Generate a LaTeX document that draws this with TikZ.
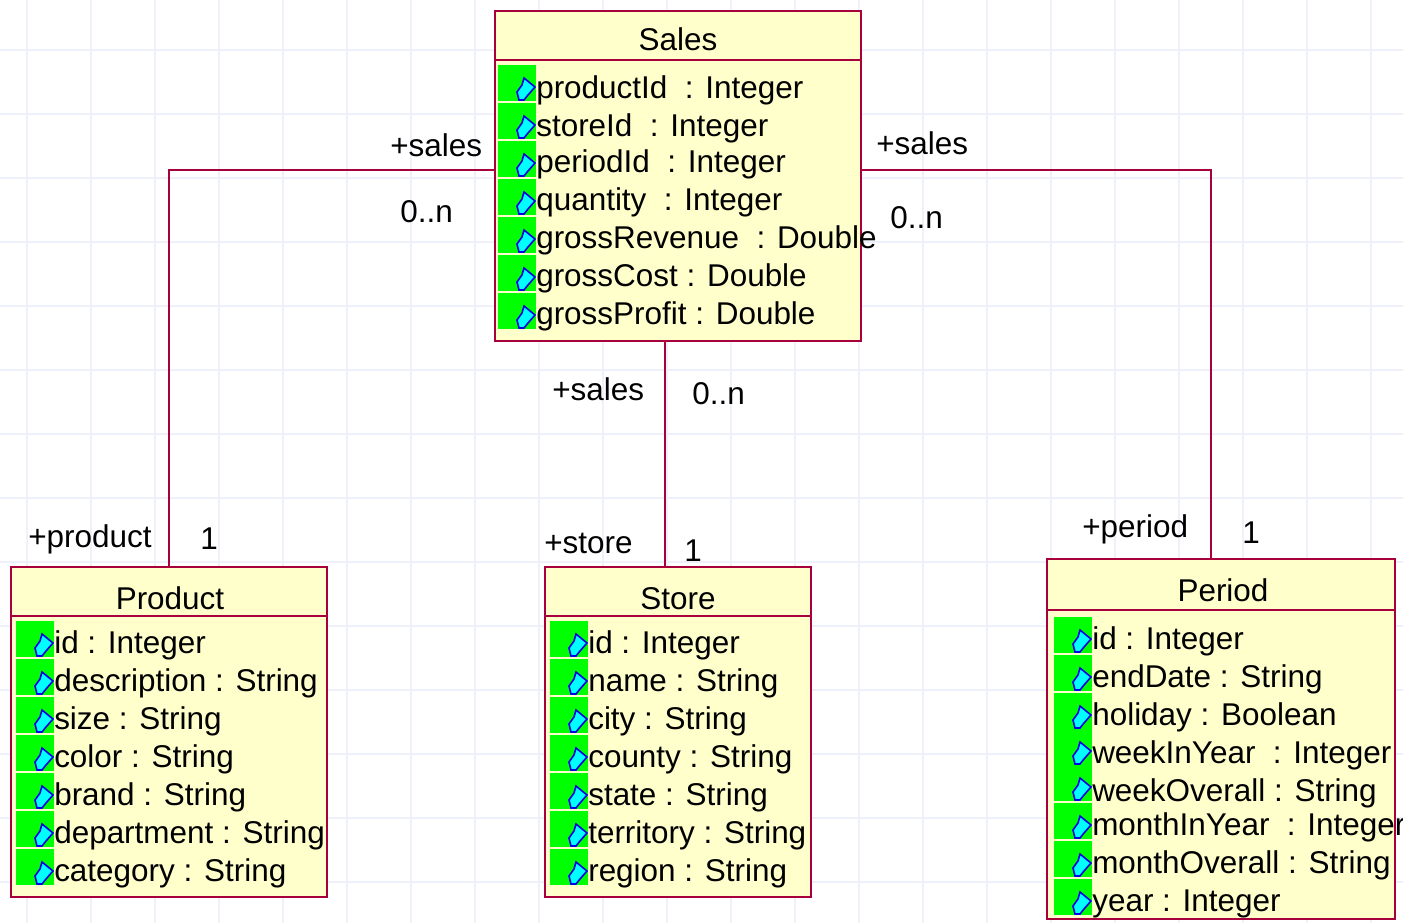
\documentclass[tikz,border=0pt]{standalone}
\usepackage{fontspec}
\setmainfont{Liberation Sans}
\definecolor{umlred}{RGB}{168, 0, 60}
\definecolor{umlfill}{RGB}{255, 255, 203}
\definecolor{gridblue}{RGB}{238, 240, 252}
\definecolor{attrgreen}{RGB}{0, 255, 0}
\definecolor{iconblue}{RGB}{0, 0, 230}
\definecolor{iconcyan}{RGB}{0, 255, 255}
\usetikzlibrary{positioning, calc}
\tikzset{
  classbox/.style={draw=umlred, fill=umlfill, line width=1.5pt, inner sep=0pt, outer sep=0pt, anchor=north west},
  classtitle/.style={font=\fontsize{23.6}{26}\selectfont, inner sep=0pt, anchor=base},
  attrtext/.style={font=\fontsize{23.6}{26}\selectfont, inner sep=0pt, anchor=base west},
  rolelabel/.style={font=\fontsize{23.6}{26}\selectfont, inner sep=0pt, anchor=base west},
  assoc/.style={draw=umlred, line width=1.2pt},
  divider/.style={draw=umlred, line width=1.5pt},
  attricon/.pic={
    \fill[attrgreen] (0,0) rectangle (38,36);
    \draw[iconblue, fill=iconcyan, line width=1.2pt] (26,13) -- (37,22) -- (30,30) -- (26,35) -- (21,35) -- (19,27) -- (24,20) -- cycle;
  }
}
\begin{document}
\begin{tikzpicture}[x=0.75pt, y=-0.75pt]
  \clip (0,0) rectangle (1403,923);

  % Grid
  \foreach \gx in {27,91,...,1403} \draw[gridblue, line width=1pt] (\gx,0) -- (\gx,923);
  \foreach \gy in {50,114,...,923} \draw[gridblue, line width=1pt] (0,\gy) -- (1403,\gy);

  % Class boxes
  \node[classbox, minimum width=274.5pt, minimum height=247.5pt] (sales) at (495,11) {};
  \node[classbox, minimum width=237pt, minimum height=247.5pt] (product) at (11,567) {};
  \node[classbox, minimum width=199.5pt, minimum height=247.5pt] (store) at (545,567) {};
  \node[classbox, minimum width=261pt, minimum height=270pt] (period) at (1047,559) {};

  % Titles
  \node[classtitle] (salestitle) at (678,51) {Sales};
  \node[classtitle] (producttitle) at (170,609) {Product};
  \node[classtitle] (storetitle) at (678,609) {Store};
  \node[classtitle] (periodtitle) at (1223,601) {Period};
  \draw[divider] (495,60) -- (861,60);
  \draw[divider] (11,616) -- (327,616);
  \draw[divider] (545,616) -- (811,616);
  \draw[divider] (1047,610) -- (1395,610);

  % Sales attributes
  \foreach \gtop/\base/\txt [count=\i] in {65/99/productId\ \ : Integer, 103/137/storeId\ \ : Integer, 141/173/periodId\ \ : Integer, 179/211/quantity\ \ : Integer, 217/249/grossRevenue\ \ : Double, 255/287/grossCost : Double, 293/325/grossProfit : Double} {
    \pic at (498,\gtop) {attricon};
    \node[attrtext] (salesattr\i) at (536,\base) {\txt};
  }

  % Product attributes
  \foreach \gtop/\base/\txt [count=\i] in {621/653/id : Integer, 659/691/description : String, 697/729/size : String, 735/767/color : String, 773/805/brand : String, 811/843/department : String, 849/881/category : String} {
    \pic at (16,\gtop) {attricon};
    \node[attrtext] (productattr\i) at (54,\base) {\txt};
  }

  % Store attributes
  \foreach \gtop/\base/\txt [count=\i] in {621/653/id : Integer, 659/691/name : String, 697/729/city : String, 735/767/county : String, 773/805/state : String, 811/843/territory : String, 849/881/region : String} {
    \pic at (550,\gtop) {attricon};
    \node[attrtext] (storeattr\i) at (588,\base) {\txt};
  }

  % Period attributes
  \foreach \gtop/\base/\txt [count=\i] in {617/649/id : Integer, 655/687/endDate : String, 693/725/holiday : Boolean, 729/763/weekInYear\ \ : Integer, 765/801/weekOverall : String, 803/835/monthInYear\ \ : Integer, 841/873/monthOverall : String, 879/911/year : Integer} {
    \pic at (1054,\gtop) {attricon};
    \node[attrtext] (periodattr\i) at (1092,\base) {\txt};
  }

  % Associations
  \coordinate (salesleft) at (495,170);
  \coordinate (salesright) at (861,170);
  \coordinate (salesbottom) at (665,341);
  \coordinate (storetop) at (665,567);
  \coordinate (periodtop) at (1211,559);
  \draw[assoc] (salesleft) -| (product.north);
  \draw[assoc] (salesright) -| (periodtop);
  \draw[assoc] (salesbottom) -- (storetop);

  % Role labels
  \node[rolelabel] (rolesalesa) at (390,157) {+sales};
  \node[rolelabel] (multsalesa) at (400,223) {0..n};
  \node[rolelabel] (roleproduct) at (28,547) {+product};
  \node[rolelabel] (multproduct) at (200,549) {1};
  \node[rolelabel] (rolesalesb) at (876,155) {+sales};
  \node[rolelabel] (multsalesb) at (890,229) {0..n};
  \node[rolelabel] (roleperiod) at (1082,537) {+period};
  \node[rolelabel] (multperiod) at (1242,543) {1};
  \node[rolelabel] (rolesalesc) at (552,401) {+sales};
  \node[rolelabel] (multsalesc) at (692,405) {0..n};
  \node[rolelabel] (rolestore) at (544,553) {+store};
  \node[rolelabel] (multstore) at (684,561) {1};
\end{tikzpicture}
\end{document}
